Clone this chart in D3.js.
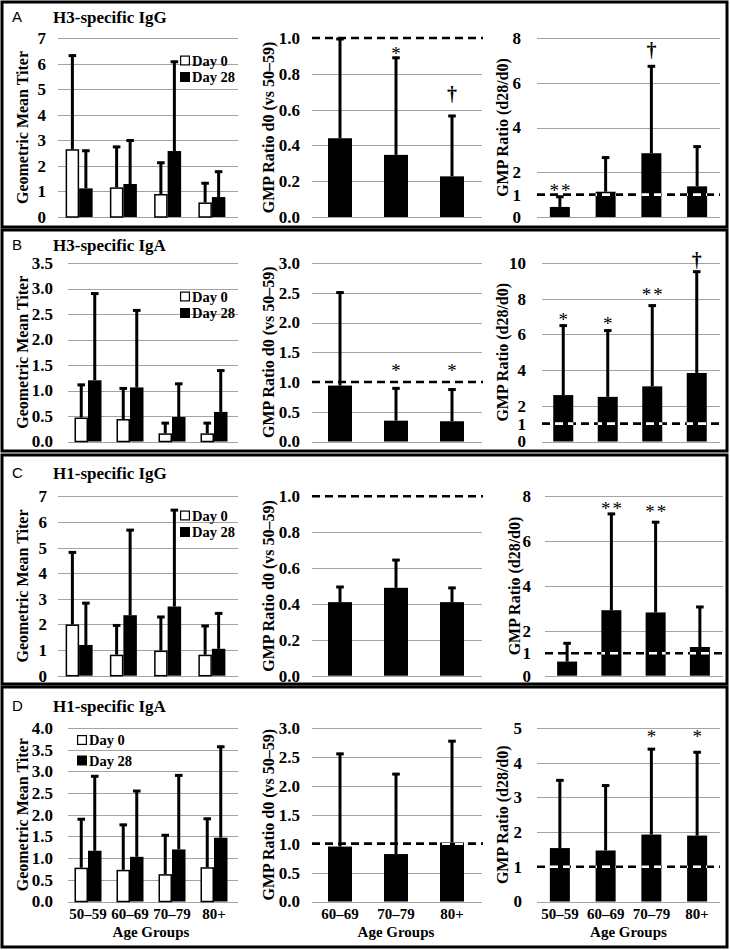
<!DOCTYPE html>
<html><head><meta charset="utf-8">
<script src="https://cdn.jsdelivr.net/npm/d3@7"></script>
<style>body{margin:0;background:#fff} svg{display:block}</style>
</head><body><svg id="c" width="730" height="950"></svg>
<script>
// ---------- DATA ----------
const ageGroups4 = ["50–59","60–69","70–79","80+"];
const ageGroups3 = ["60–69","70–79","80+"];
const seriesNames = ["Day 0","Day 28"];
const panelLetters = ["A","B","C","D"];
const panelTitles = ["H3-specific IgG","H3-specific IgA","H1-specific IgG","H1-specific IgA"];
const leftAxisTitle = "Geometric Mean Titer";
const midAxisTitle = "GMP Ratio d0 (vs 50–59)";
const rightAxisTitle = "GMP Ratio (d28/d0)";
const xAxisTitle = "Age Groups";

// A: H3-specific IgG
const h3IgG_d0 = [2.65, 1.16, 0.90, 0.57];
const h3IgG_d0Err = [6.35, 2.78, 2.16, 1.36];
const h3IgG_d28 = [1.12, 1.29, 2.58, 0.78];
const h3IgG_d28Err = [2.63, 3.03, 6.11, 1.81];
const h3IgG_ratioD0 = [0.44, 0.347, 0.227];
const h3IgG_ratioD0Err = [1.0, 0.895, 0.57];
const h3IgG_fold = [0.45, 1.13, 2.85, 1.37];
const h3IgG_foldErr = [0.95, 2.70, 6.78, 3.19];
// B: H3-specific IgA
const h3IgA_d0 = [0.47, 0.44, 0.16, 0.16];
const h3IgA_d0Err = [1.13, 1.06, 0.38, 0.38];
const h3IgA_d28 = [1.20, 1.06, 0.48, 0.58];
const h3IgA_d28Err = [2.92, 2.59, 1.15, 1.41];
const h3IgA_ratioD0 = [0.94, 0.35, 0.34];
const h3IgA_ratioD0Err = [2.52, 0.91, 0.89];
const h3IgA_fold = [2.60, 2.50, 3.09, 3.84];
const h3IgA_foldErr = [6.55, 6.27, 7.67, 9.57];
// C: H1-specific IgG
const h1IgG_d0 = [2.00, 0.82, 0.98, 0.82];
const h1IgG_d0Err = [4.85, 2.00, 2.33, 1.98];
const h1IgG_d28 = [1.20, 2.36, 2.70, 1.05];
const h1IgG_d28Err = [2.87, 5.72, 6.50, 2.47];
const h1IgG_ratioD0 = [0.41, 0.49, 0.41];
const h1IgG_ratioD0Err = [0.50, 0.65, 0.495];
const h1IgG_fold = [0.63, 2.92, 2.82, 1.28];
const h1IgG_foldErr = [1.49, 7.26, 6.89, 3.11];
// D: H1-specific IgA
const h1IgA_d0 = [0.78, 0.73, 0.63, 0.79];
const h1IgA_d0Err = [1.92, 1.79, 1.55, 1.93];
const h1IgA_d28 = [1.17, 1.03, 1.20, 1.47];
const h1IgA_d28Err = [2.91, 2.57, 2.93, 3.59];
const h1IgA_ratioD0 = [0.95, 0.82, 1.02];
const h1IgA_ratioD0Err = [2.57, 2.22, 2.79];
const h1IgA_fold = [1.54, 1.47, 1.93, 1.90];
const h1IgA_foldErr = [3.52, 3.37, 4.42, 4.33];

// tick values
const ticksLeftA = [0,1,2,3,4,5,6,7];
const ticksLeftB = [0,0.5,1,1.5,2,2.5,3,3.5];
const ticksLeftC = [0,1,2,3,4,5,6,7];
const ticksLeftD = [0,0.5,1,1.5,2,2.5,3,3.5,4];
const ticksMidA = [0,0.2,0.4,0.6,0.8,1.0];
const ticksMidB = [0,0.5,1,1.5,2,2.5,3];
const ticksMidC = [0,0.2,0.4,0.6,0.8,1.0];
const ticksMidD = [0,0.5,1,1.5,2,2.5,3];
const ticksRightA = [0,1,2,4,6,8];
const ticksRightB = [0,1,2,4,6,8,10];
const ticksRightC = [0,1,2,4,6,8];
const ticksRightD = [0,1,2,3,4,5];
const referenceLevel = 1;

// significance marks: [group, symbol, level (data units of mark bottom)]
const marksMidA = [["70–79","*",0.91],["80+","†",0.63]];
const marksRightA = [["50–59","**",1.13],["70–79","†",7.0]];
const marksMidB = [["70–79","*",1.17],["80+","*",1.17]];
const marksRightB = [["50–59","*",6.8],["60–69","*",6.55],["70–79","**",8.2],["80+","†",9.6]];
const marksRightC = [["60–69","**",7.4],["70–79","**",7.27]];
const marksRightD = [["70–79","*",4.74],["80+","*",4.74]];

// ---------- DRAWING ----------
const SERIF = "'Liberation Serif','Times New Roman',serif";
const SANS = "'Liberation Sans',Arial,sans-serif";
const GRID = "#a3a3a3";
const TICK_FS = 17, TITLE_FS = 16, MARK_FS = 19, X_FS = 15, LEG_FS = 14.5;
const svg = d3.select("#c");
let clipId = 0;

function drawPanel(o) {
  const g = svg.append("g");
  const y = d3.scaleLinear().domain([0, d3.max(o.ticks)]).range([o.yb, o.yt]);
  const step = (o.xr[1]-o.xr[0]) / o.cats.length;
  const p = 1 - o.groupW/step;
  const x = d3.scaleBand().domain(o.cats).range(o.xr).paddingInner(p).paddingOuter(p/2);
  const x1 = d3.scaleBand().domain(d3.range(o.series.length)).range([0, x.bandwidth()]);

  // gridlines
  g.selectAll(null).data(o.ticks.filter(t => !(o.dashed && t === referenceLevel))).join("line")
    .attr("x1", o.gx[0]).attr("x2", o.gx[1])
    .attr("y1", d => Math.round(y(d)) + 0.5).attr("y2", d => Math.round(y(d)) + 0.5)
    .attr("stroke", GRID).attr("stroke-width", 1.2);

  // y axis labels
  const ax = g.append("g").attr("transform", `translate(${o.gx[0]},0)`)
    .call(d3.axisLeft(y).tickValues(o.ticks).tickFormat(o.fmt).tickSize(0).tickPadding(o.pad));
  ax.select(".domain").remove();
  ax.attr("font-family", SERIF).attr("font-size", TICK_FS).attr("font-weight", "bold");
  ax.selectAll("text").attr("fill", "#000");

  // y axis title
  g.append("text").attr("transform", `translate(${o.titleX},${(o.yt+o.yb)/2 + (o.titleDy||0)}) rotate(-90)`)
    .attr("text-anchor","middle").attr("dominant-baseline","central")
    .attr("font-family", SERIF).attr("font-weight","bold").attr("font-size", TITLE_FS)
    .text(o.yTitle);

  // bars
  const barRects = [];
  o.series.forEach((s, si) => {
    const rows = o.cats.map((c, i) => ({c, v: s.values[i], e: s.errs[i]}));
    const bw = x1.bandwidth();
    const sw = s.hollow ? 1.5 : 0;
    g.selectAll(null).data(rows).join("rect")
      .attr("x", d => x(d.c) + x1(si) + sw/2)
      .attr("width", bw - sw)
      .attr("y", d => y(d.v) + sw/2)
      .attr("height", d => y(0) - y(d.v) - sw/2)
      .attr("fill", s.hollow ? "#fff" : "#000")
      .attr("stroke", s.hollow ? "#000" : "none")
      .attr("stroke-width", sw);
    if (!s.hollow) rows.forEach(d => barRects.push({x: x(d.c)+x1(si), w: bw, y: y(d.v), h: y(0)-y(d.v)}));
    // error bars
    g.selectAll(null).data(rows).join("line")
      .attr("x1", d => x(d.c)+x1(si)+bw/2).attr("x2", d => x(d.c)+x1(si)+bw/2)
      .attr("y1", d => y(d.v)).attr("y2", d => y(d.e))
      .attr("stroke", "#000").attr("stroke-width", 3);
    g.selectAll(null).data(rows).join("line")
      .attr("x1", d => x(d.c)+x1(si)+bw/2-3.8).attr("x2", d => x(d.c)+x1(si)+bw/2+3.8)
      .attr("y1", d => y(d.e)+1).attr("y2", d => y(d.e)+1)
      .attr("stroke", "#000").attr("stroke-width", 3);
  });

  // reference dashed line
  if (o.dashed) {
    const ry = y(referenceLevel);
    g.append("line").attr("x1", o.dx[0]).attr("x2", o.dx[1]).attr("y1", ry).attr("y2", ry)
      .attr("stroke","#000").attr("stroke-width",2.6).attr("stroke-dasharray","8,5");
    const id = "clip" + (clipId++);
    const cp = g.append("clipPath").attr("id", id);
    barRects.forEach(r => cp.append("rect").attr("x", r.x).attr("y", r.y).attr("width", r.w).attr("height", r.h));
    g.append("line").attr("clip-path", `url(#${id})`)
      .attr("x1", o.dx[0]).attr("x2", o.dx[1]).attr("y1", ry).attr("y2", ry)
      .attr("stroke","#fff").attr("stroke-width",2.6).attr("stroke-dasharray","8,5");
  }

  // significance marks
  (o.marks || []).forEach(m => {
    const cx = x(m[0]) + x.bandwidth()/2;
    const by = y(m[2]);
    const isDagger = m[1] === "†";
    g.append("text").attr("x", cx + (m[1] === "**" ? 1 : 0)).attr("y", isDagger ? by - 3 : by + 5.5)
      .attr("text-anchor","middle").attr("font-family", SERIF)
      .attr("font-weight", isDagger ? "bold" : "normal")
      .attr("font-size", isDagger ? 20 : MARK_FS).attr("letter-spacing", m[1] === "**" ? 2 : 0).text(m[1]);
  });

  // x axis labels
  if (o.showX) {
    const xa = g.append("g").attr("transform", `translate(0,${o.yb})`)
      .call(d3.axisBottom(x).tickSize(0).tickPadding(o.xPad));
    xa.select(".domain").remove();
    xa.attr("font-family", SERIF).attr("font-size", X_FS).attr("font-weight","bold");
    xa.selectAll("text").attr("fill","#000");
    g.append("text").attr("x", (o.xr[0]+o.xr[1])/2).attr("y", o.xTitleY)
      .attr("text-anchor","middle").attr("font-family", SERIF).attr("font-weight","bold")
      .attr("font-size", X_FS).text(xAxisTitle);
  }

  // legend
  if (o.legend) {
    o.series.forEach((s, si) => {
      const ly = o.legend[1] + si * o.legend[2];
      g.append("rect").attr("x", o.legend[0]+0.6).attr("y", ly-4.4).attr("width", 8.8).attr("height", 8.8)
        .attr("fill", s.hollow ? "#fff" : "#000").attr("stroke","#000").attr("stroke-width",1.2);
      g.append("text").attr("x", o.legend[0]+12).attr("y", ly).attr("dominant-baseline","central")
        .attr("font-family", SERIF).attr("font-weight","bold").attr("font-size", LEG_FS).text(s.name);
    });
  }
}

const f0 = d3.format("d"), f1 = d3.format(".1f");

const rows = [
  {box:[2,2,725,225], yt:38, yb:217, titleY:23,
   left:{xr:[57,234], gx:[58,238], pad:12, ticks:ticksLeftA, fmt:f0, d0:h3IgG_d0, d0e:h3IgG_d0Err, d28:h3IgG_d28, d28e:h3IgG_d28Err, legend:[180,60.5,16.5]},
   mid:{gx:[312,482], ticks:ticksMidA, fmt:f1, v:h3IgG_ratioD0, e:h3IgG_ratioD0Err, marks:marksMidA},
   right:{xr:[537,720], gx:[537,720], pad:16, ticks:ticksRightA, v:h3IgG_fold, e:h3IgG_foldErr, marks:marksRightA}},
  {box:[2,230,725,221], yt:263, yb:441.5, titleY:251,
   left:{xr:[67,235], gx:[68,238], pad:15, ticks:ticksLeftB, fmt:f1, d0:h3IgA_d0, d0e:h3IgA_d0Err, d28:h3IgA_d28, d28e:h3IgA_d28Err, legend:[180,296.5,16.5]},
   mid:{gx:[312,482], ticks:ticksMidB, fmt:f1, v:h3IgA_ratioD0, e:h3IgA_ratioD0Err, marks:marksMidB},
   right:{xr:[541,719], gx:[542,720], pad:16, ticks:ticksRightB, v:h3IgA_fold, e:h3IgA_foldErr, marks:marksRightB}},
  {box:[2,455,725,229], yt:496.3, yb:675.7, titleY:479,
   left:{xr:[57,234], gx:[58,238], pad:11, ticks:ticksLeftC, fmt:f0, d0:h1IgG_d0, d0e:h1IgG_d0Err, d28:h1IgG_d28, d28e:h1IgG_d28Err, legend:[180,515.5,16.5]},
   mid:{gx:[312,482], ticks:ticksMidC, fmt:f1, v:h1IgG_ratioD0, e:h1IgG_ratioD0Err, marks:[]},
   right:{xr:[545,722], gx:[545,723], pad:14, ticks:ticksRightC, v:h1IgG_fold, e:h1IgG_foldErr, marks:marksRightC}},
  {box:[2,687,725,260], yt:728, yb:901.5, titleY:712,
   left:{xr:[67,235], gx:[68,238], pad:15, ticks:ticksLeftD, fmt:f1, d0:h1IgA_d0, d0e:h1IgA_d0Err, d28:h1IgA_d28, d28e:h1IgA_d28Err, legend:[77,740,20.5]},
   mid:{gx:[312,482], ticks:ticksMidD, fmt:f1, v:h1IgA_ratioD0, e:h1IgA_ratioD0Err, marks:[]},
   right:{xr:[537,720], gx:[537,720], pad:15, ticks:ticksRightD, v:h1IgA_fold, e:h1IgA_foldErr, marks:marksRightD}}
];

rows.forEach((r, ri) => {
  const last = ri === rows.length - 1;
  svg.append("rect").attr("x", r.box[0]).attr("y", r.box[1]).attr("width", r.box[2]).attr("height", r.box[3])
    .attr("fill","none").attr("stroke","#000").attr("stroke-width",3);
  svg.append("text").attr("x", 12).attr("y", r.titleY - 1).attr("font-family", SANS).attr("font-size", 15)
    .text(panelLetters[ri]);
  svg.append("text").attr("x", 53).attr("y", r.titleY).attr("font-family", SERIF).attr("font-weight","bold")
    .attr("font-size", 17).text(panelTitles[ri]);

  drawPanel({xr:r.left.xr, gx:r.left.gx, yt:r.yt, yb:r.yb, cats:ageGroups4, groupW:27, pad:r.left.pad,
    ticks:r.left.ticks, fmt:r.left.fmt, titleX:22, yTitle:leftAxisTitle, dashed:false,
    series:[{name:seriesNames[0], values:r.left.d0, errs:r.left.d0e, hollow:true},
            {name:seriesNames[1], values:r.left.d28, errs:r.left.d28e, hollow:false}],
    legend:r.left.legend, showX:last, xPad:7, xTitleY:937});

  drawPanel({xr:[312,480], gx:r.mid.gx, dx:[312,483], yt:r.yt, yb:r.yb, cats:ageGroups3, groupW:24, pad:12,
    ticks:r.mid.ticks, fmt:r.mid.fmt, titleX:268, yTitle:midAxisTitle, dashed:true,
    series:[{name:"ratio", values:r.mid.v, errs:r.mid.e, hollow:false}], marks:r.mid.marks,
    showX:last, xPad:7, xTitleY:937});

  drawPanel({xr:r.right.xr, gx:r.right.gx, dx:r.right.gx, yt:r.yt, yb:r.yb, cats:ageGroups4, groupW:20, pad:r.right.pad,
    ticks:r.right.ticks, fmt:f0, titleX: ri===2 ? 514 : 502, yTitle:rightAxisTitle, dashed:true,
    series:[{name:"fold", values:r.right.v, errs:r.right.e, hollow:false}], marks:r.right.marks,
    showX:last, xPad:7, xTitleY:937});
});
</script></body></html>
